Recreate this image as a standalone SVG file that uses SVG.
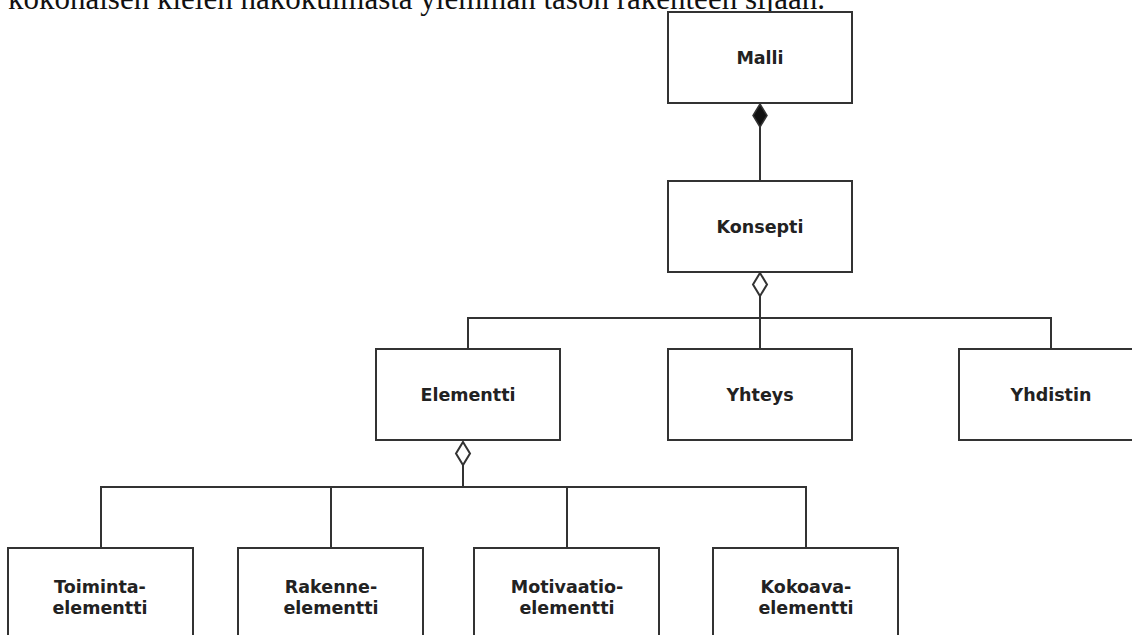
<svg xmlns="http://www.w3.org/2000/svg" width="1132" height="635" viewBox="0 0 1132 635">
<style>
.box{fill:#fff;stroke:#333;stroke-width:2}
.lbl{font-family:"DejaVu Sans",Verdana,sans-serif;font-weight:bold;font-size:17.5px;fill:#222;text-anchor:middle}
.ln{fill:none;stroke:#333;stroke-width:2}
.cap{font-family:"Liberation Serif","Times New Roman",serif;font-size:31px;fill:#111}
</style>
<rect width="1132" height="635" fill="#fff"/>
<text class="cap" x="8" y="9">kokonaisen kielen näkökulmasta ylemmän tason rakenteen sijaan.</text>
<g id="connectors">
<path class="ln" d="M760 127V180"/>
<path class="ln" d="M760 296V349M468 349V318H1051V349"/>
<path class="ln" d="M463 465V487M101 548V487H806V548M331 487V548M567 487V548"/>
<path d="M760 104L767 115.5L760 127L753 115.5Z" fill="#111" stroke="#333" stroke-width="1.5"/>
<path d="M760 273L767 284.5L760 296L753 284.5Z" fill="#fff" stroke="#333" stroke-width="2"/>
<path d="M463 442L470 453.5L463 465L456 453.5Z" fill="#fff" stroke="#333" stroke-width="2"/>
</g>
<g id="malli"><rect class="box" x="668" y="12" width="184" height="91"/><text class="lbl" x="760" y="64">Malli</text></g>
<g id="konsepti"><rect class="box" x="668" y="181" width="184" height="91"/><text class="lbl" x="760" y="233">Konsepti</text></g>
<g id="elementti"><rect class="box" x="376" y="349" width="184" height="91"/><text class="lbl" x="468" y="401">Elementti</text></g>
<g id="yhteys"><rect class="box" x="668" y="349" width="184" height="91"/><text class="lbl" x="760" y="401">Yhteys</text></g>
<g id="yhdistin"><rect class="box" x="959" y="349" width="184" height="91"/><text class="lbl" x="1051" y="401">Yhdistin</text></g>
<g id="toiminta"><rect class="box" x="8" y="548" width="185" height="100"/><text class="lbl" x="100" y="593">Toiminta-</text><text class="lbl" x="100" y="614">elementti</text></g>
<g id="rakenne"><rect class="box" x="238" y="548" width="185" height="100"/><text class="lbl" x="331" y="593">Rakenne-</text><text class="lbl" x="331" y="614">elementti</text></g>
<g id="motivaatio"><rect class="box" x="474" y="548" width="185" height="100"/><text class="lbl" x="567" y="593">Motivaatio-</text><text class="lbl" x="567" y="614">elementti</text></g>
<g id="kokoava"><rect class="box" x="713" y="548" width="185" height="100"/><text class="lbl" x="806" y="593">Kokoava-</text><text class="lbl" x="806" y="614">elementti</text></g>
</svg>
